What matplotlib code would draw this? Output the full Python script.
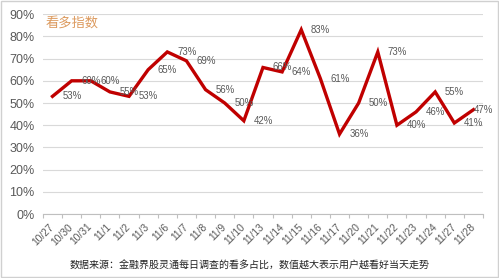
import matplotlib
matplotlib.use("Agg")
import matplotlib.pyplot as plt
from matplotlib.patches import Rectangle

dates = ["10/27", "10/30", "10/31", "11/1", "11/2", "11/3", "11/6", "11/7", "11/8",
         "11/9", "11/10", "11/13", "11/14", "11/15", "11/16", "11/17", "11/20",
         "11/21", "11/22", "11/23", "11/24", "11/27", "11/28"]
values = [53, 60, 60, 55, 53, 65, 73, 69, 56, 50, 42, 66, 64, 83, 61, 36, 50,
          73, 40, 46, 55, 41, 47]
yticks = [0, 10, 20, 30, 40, 50, 60, 70, 80, 90]
title = "看多指数"
caption = "数据来源：金融界股灵通每日调查的看多占比，数值越大表示用户越看好当天走势"

plt.rcParams['font.family'] = ['Liberation Sans', 'Noto Sans CJK SC', 'DejaVu Sans']

fig = plt.figure(figsize=(4.99, 2.78), dpi=100)
fig.patch.set_facecolor('white')
fig.patches.append(Rectangle((0.002, 0.003), 0.995, 0.994, transform=fig.transFigure,
                             fill=False, edgecolor='#d0d0d0', linewidth=1))

ax = fig.add_axes([0.086, 0.230, 0.882, 0.719])
x = list(range(len(dates)))
ax.plot(x, values, color='#c00000', linewidth=2.4, solid_joinstyle='miter', zorder=3)

ax.set_xlim(-0.5, len(dates) - 0.5)
ax.set_ylim(0, 90)
ax.set_yticks(yticks)
ax.set_yticklabels([f"{v}%" for v in yticks], color='#595959', fontsize=9)
ax.grid(axis='y', color='#d9d9d9', linewidth=0.8)
ax.set_axisbelow(True)
for s in ['top', 'right', 'left']:
    ax.spines[s].set_visible(False)
ax.spines['bottom'].set_color('#bfbfbf')
ax.tick_params(axis='y', length=0, pad=6)

ax.set_xticks([i - 0.5 for i in range(len(dates) + 1)], minor=False)
ax.set_xticklabels([])
ax.tick_params(axis='x', which='major', length=3, color='#bfbfbf')
ax.set_xticks(x, minor=True)
ax.set_xticklabels(dates, minor=True, rotation=45, ha='right', va='center',
                   rotation_mode='anchor', fontsize=7.4, color='#595959')
ax.tick_params(axis='x', which='minor', length=0, pad=8)

for i, v in enumerate(values):
    dx = 14 if i < len(values) - 1 else 7
    ax.annotate(f"{v}%", (i, v), xytext=(dx, 0), textcoords='offset points',
                ha='center', va='center', fontsize=6.9, color='#595959', zorder=4)

fig.text(0.092, 0.915, title, fontsize=9.5, color='#dc9a5e',
         family=['Noto Sans CJK SC', 'DejaVu Sans'], ha='left', va='center')
fig.text(0.5, 0.043, caption, fontsize=7.2, color='#222222',
         family=['Noto Sans CJK SC', 'DejaVu Sans'], ha='center', va='center')

fig.savefig("out.png", dpi=100)
